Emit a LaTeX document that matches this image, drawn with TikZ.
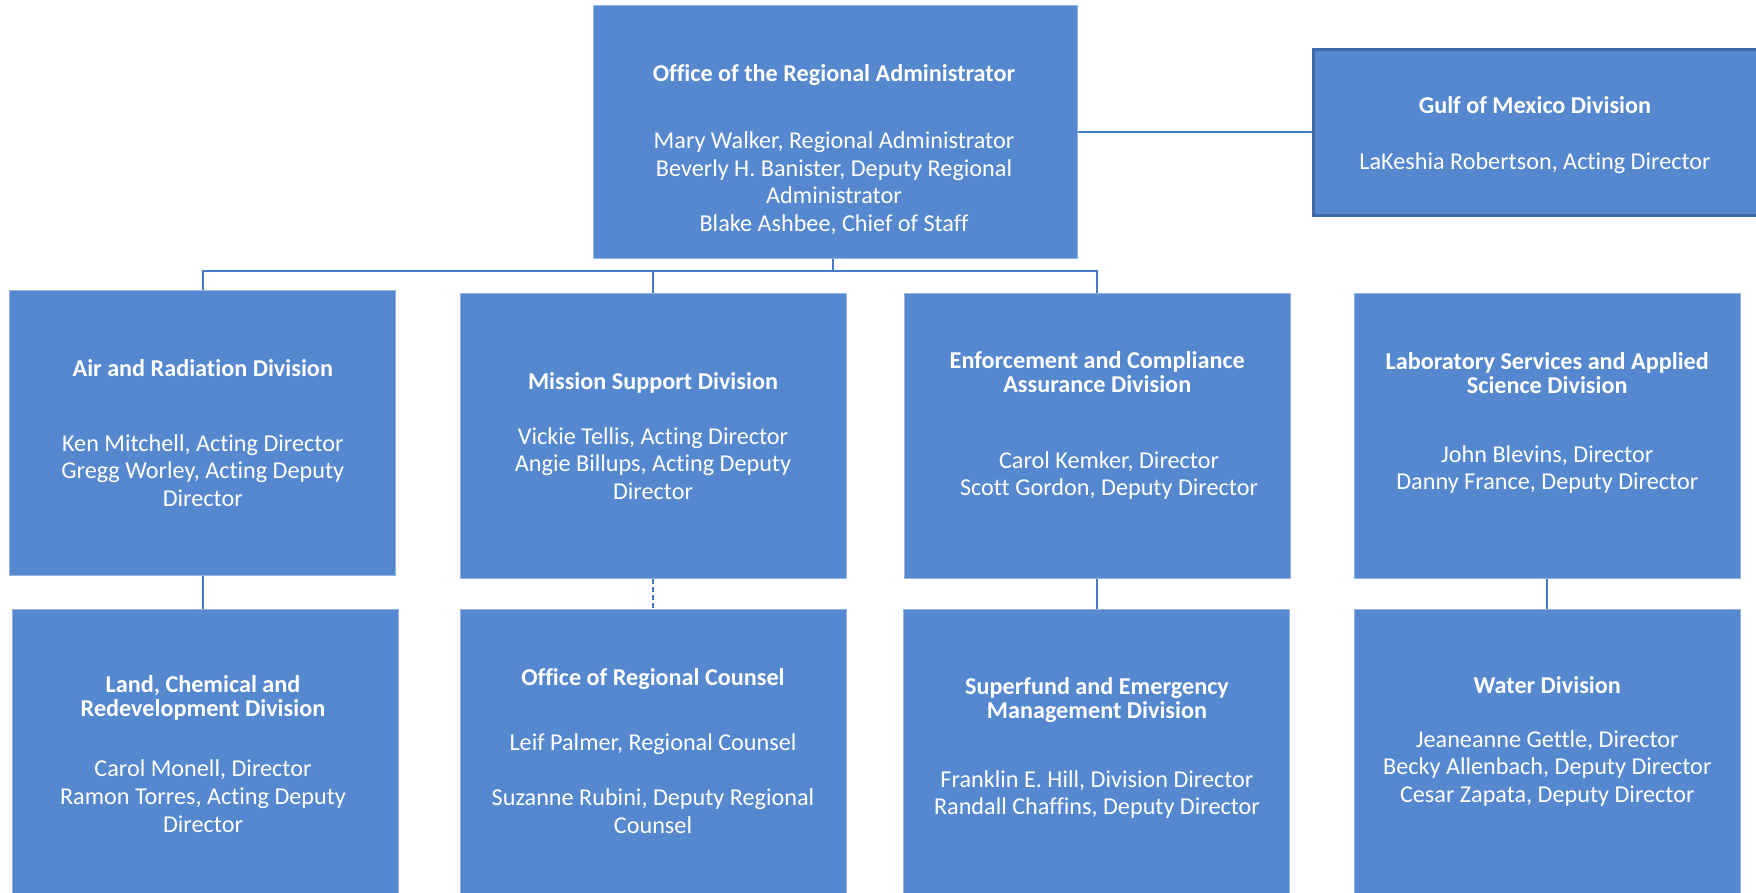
\documentclass[tikz,border=0pt]{standalone}
\usepackage{fontspec}
\setmainfont{Carlito}[Ligatures=NoCommon]
\lineskiplimit=-100pt
\definecolor{boxblue}{RGB}{85,136,207}
\definecolor{boxedge}{RGB}{150,180,225}
\definecolor{gulfedge}{RGB}{62,104,168}
\definecolor{linkblue}{RGB}{72,120,200}
\newcommand{\hs}{\rule[-2.1pt]{0pt}{12pt}}
\newcommand{\ns}{\rule[-3.0pt]{0pt}{13.8pt}}
\tikzset{
  orgbox/.style={rectangle, fill=boxblue, draw=boxedge, line width=0.5pt, inner sep=0pt,
    minimum width=193pt, minimum height=142.5pt},
  lowbox/.style={orgbox, minimum height=155pt},
  hd/.style={text=white, align=center, inner sep=0pt, font=\bfseries\fontsize{12.1pt}{12pt}\selectfont},
  nm/.style={text=white, align=center, inner sep=0pt, font=\fontsize{12.1pt}{13.8pt}\selectfont},
  conn/.style={draw=linkblue, line width=0.8pt},
}
\begin{document}
\begin{tikzpicture}[x=0.5pt,y=-0.5pt]
\useasboundingbox (0,0) rectangle (1756,893);
\clip (0,0) rectangle (1756,893);
% boxes
\node[orgbox, minimum width=242pt, minimum height=126.6pt] (off) at (835.5,132.1) {};
\node[rectangle, fill=boxblue, draw=gulfedge, line width=1.25pt, inner sep=0pt,
      minimum width=228.2pt, minimum height=83pt] (gulf) at (1541.8,132.5) {};
\node[orgbox] (air) at (202.75,433.2) {};
\node[orgbox] (mis) at (653,435.8) {};
\node[orgbox] (enf) at (1097.25,435.8) {};
\node[orgbox] (lab) at (1547.25,435.8) {};
\node[lowbox] (land) at (205.2,764.5) {};
\node[lowbox] (cou) at (653.85,764.5) {};
\node[lowbox] (sup) at (1096,764.5) {};
\node[lowbox] (wat) at (1547.25,764.5) {};
% texts
\node[hd] (off-h) at (834,74) {\hs Office of the Regional Administrator};
\node[nm] (off-n) at (834,182.3) {\ns Mary Walker, Regional Administrator\\\ns Beverly H. Banister, Deputy Regional\\\ns Administrator\\\ns Blake Ashbee, Chief of Staff};
\node[hd] (gulf-h) at (1535,106) {\hs Gulf of Mexico Division};
\node[nm] (gulf-n) at (1535,162) {\ns LaKeshia Robertson, Acting Director};
\node[hd] (air-h) at (202.75,369) {\hs Air and Radiation Division};
\node[nm] (air-n) at (202.75,470.8) {\ns Ken Mitchell, Acting Director\\\ns Gregg Worley, Acting Deputy\\\ns Director};
\node[hd] (mis-h) at (653,381.7) {\hs Mission Support Division};
\node[nm] (mis-n) at (653,464) {\ns Vickie Tellis, Acting Director\\\ns Angie Billups, Acting Deputy\\\ns Director};
\node[hd] (enf-h) at (1097.25,372.9) {\hs Enforcement and Compliance\\\hs Assurance Division};
\node[nm] (enf-n) at (1109,474.2) {\ns Carol Kemker, Director\\\ns Scott Gordon, Deputy Director};
\node[hd] (lab-h) at (1547.25,374) {\hs Laboratory Services and Applied\\\hs Science Division};
\node[nm] (lab-n) at (1547.25,468.3) {\ns John Blevins, Director\\\ns Danny France, Deputy Director};
\node[hd] (land-h) at (203,696.2) {\hs Land, Chemical and\\\hs Redevelopment Division};
\node[nm] (land-n) at (203,796.6) {\ns Carol Monell, Director\\\ns Ramon Torres, Acting Deputy\\\ns Director};
\node[hd] (cou-h) at (653,678) {\hs Office of Regional Counsel};
\node[nm] (cou-n) at (653,784.2) {\ns Leif Palmer, Regional Counsel\\[13.8pt]\ns Suzanne Rubini, Deputy Regional\\\ns Counsel};
\node[hd] (sup-h) at (1097,699) {\hs Superfund and Emergency\\\hs Management Division};
\node[nm] (sup-n) at (1097,793) {\ns Franklin E. Hill, Division Director\\\ns Randall Chaffins, Deputy Director};
\node[hd] (wat-h) at (1547.25,686) {\hs Water Division};
\node[nm] (wat-n) at (1547.25,767.1) {\ns Jeaneanne Gettle, Director\\\ns Becky Allenbach, Deputy Director\\\ns Cesar Zapata, Deputy Director};
% connectors
\coordinate (bus) at (833,271);
\draw[conn] (off.east) -- (off.east -| gulf.west);
\draw[conn] (off.south -| bus) -- (bus);
\draw[conn] (air.north) -- (air.north |- bus) -- (enf.north |- bus) -- (enf.north);
\draw[conn] (mis.north) -- (mis.north |- bus);
\draw[conn] (air.south) -- (air.south |- land.north);
\draw[conn, dashed, dash pattern=on 2.5pt off 1.5pt] (mis.south) -- (mis.south |- cou.north);
\draw[conn] (enf.south) -- (enf.south |- sup.north);
\draw[conn] (lab.south) -- (lab.south |- wat.north);
\end{tikzpicture}
\end{document}
